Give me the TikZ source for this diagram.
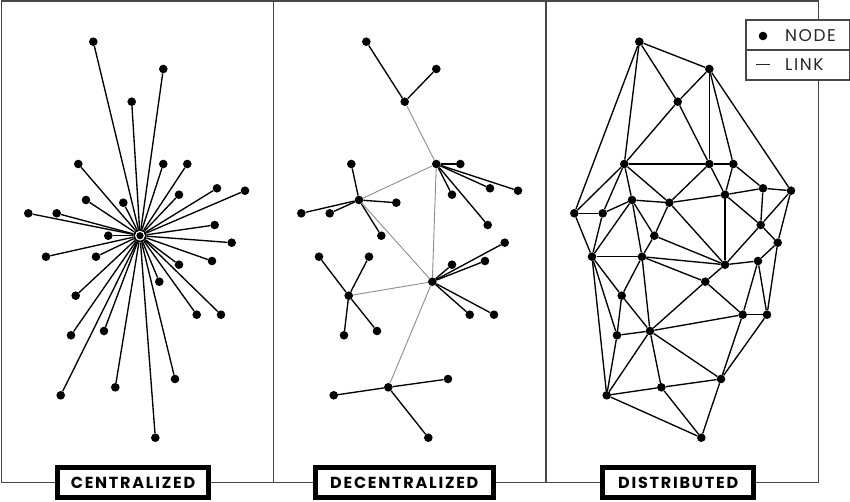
\documentclass[tikz,border=0pt]{standalone}
\usepackage{fontspec}
\newfontfamily\lblfont{Poppins}[LetterSpace=11]
\newfontfamily\legfont{Poppins}[LetterSpace=9]
\def\pts{1/93.3/41.7,2/163.3/69,3/131.7/101.7,4/78.3/164,5/163.3/164,6/187.3/164,7/217/188.3,8/245/190.7,9/179/194.7,10/86/200,11/123.3/202.7,12/28.3/213.3,13/56.7/213.3,14/214.7/225,15/108.3/235.7,16/231.7/242.7,17/46/256.7,18/96/256.7,19/179/264.7,20/212/261,21/159.3/281.7,22/75.7/295.7,23/196.7/314.7,24/221/314.7,25/71/335.3,26/104/331,27/175/379,28/115.3/387.3,29/60.7/395.3,30/155.3/437.7}
\begin{document}
\begin{tikzpicture}[x=1pt,y=-1pt,
  dot/.style={circle,fill=black,inner sep=0pt,minimum size=8.6pt},
  edge/.style={line width=1.35pt,black},
  weak/.style={line width=0.9pt,black!45},
  frame/.style={line width=1.4pt,black!72},
  lbl/.style={draw=black,line width=5pt,fill=white,inner sep=0pt,minimum height=30pt,
    font=\lblfont\fontsize{16}{18}\selectfont\bfseries},
  leg/.style={anchor=west,inner sep=0pt,font=\legfont\fontsize{17}{19}\selectfont,text=black!85}]
\useasboundingbox (0,0) rectangle (850,502);
\draw[frame] (1.2,1.2) rectangle (818.7,482.3);
\draw[frame] (273.3,1.2) -- (273.3,482.3);
\draw[frame] (546,1.2) -- (546,482.3);
% nodes
\foreach \i/\x/\y in \pts {
  \node[dot] (c\i) at (\x,\y) {};
  \node[dot] (m\i) at (\x+273,\y) {};
  \node[dot] (d\i) at (\x+546,\y) {};
}
% centralized
\node[circle,fill=black,inner sep=0pt,minimum size=13.5pt] (chub) at (140,235.7) {};
\foreach \i in {1,...,30} \draw[edge] (chub) -- (c\i);
\fill[white] (chub.center) circle (5pt);
\fill[black] (chub.center) circle (3.6pt);
% decentralized
\foreach \a/\b in {3/1,3/2,5/6,5/7,5/8,5/9,5/14,10/4,10/12,10/13,10/11,10/15,21/16,21/19,21/20,21/23,21/24,22/17,22/18,22/25,22/26,28/29,28/27,28/30}
  \draw[edge] (m\a) -- (m\b);
\foreach \a/\b in {3/5,5/10,5/21,10/21,21/22,21/28}
  \draw[weak] (m\a) -- (m\b);
% distributed
\foreach \a/\b in {1/2,1/3,1/4,1/12,2/3,2/5,2/6,2/8,3/4,3/5,4/5,5/6,4/12,4/13,4/10,4/11,12/13,13/10,12/17,13/17,10/17,10/11,10/15,10/18,11/15,11/5,11/9,11/19,5/9,6/9,6/7,9/7,7/8,7/14,8/14,8/16,9/14,9/19,14/16,14/19,16/20,20/19,16/24,20/23,20/24,23/24,23/27,24/27,27/30,21/23,26/23,26/27,28/27,28/30,29/30,26/21,21/19,15/19,18/19,18/21,17/18,18/15,18/22,18/26,17/22,17/29,17/25,22/25,22/26,25/26,25/29,26/29,26/28,29/28}
  \draw[edge] (d\a) -- (d\b);
% legend
\draw[frame,fill=white] (746,20) rectangle (849.3,80);
\draw[frame] (746,50) -- (849.3,50);
\node[dot] (legdot) at (763,36) {};
\node[leg] (legnode) at (785,36) {NODE};
\coordinate (la) at (756,64.3);
\coordinate (lb) at (770,64.3);
\draw[line width=1pt,black!85] (la) -- (lb);
\node[leg] (leglink) at (785,64.5) {LINK};
% labels
\node[lbl,minimum width=151pt] (lc) at (133,482.5) {CENTRALIZED};
\node[lbl,minimum width=177.7pt] (ld) at (404.3,482.5) {DECENTRALIZED};
\node[lbl,minimum width=150.7pt] (ldi) at (678.2,482.5) {DISTRIBUTED};
\end{tikzpicture}
\end{document}
